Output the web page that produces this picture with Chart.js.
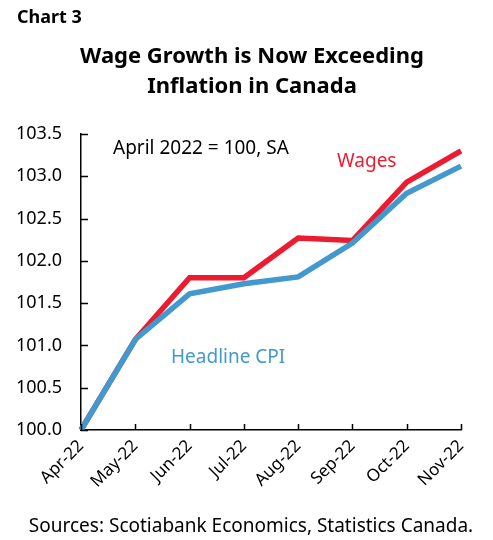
<!DOCTYPE html>
<html>
<head>
<meta charset="utf-8">
<script src="https://cdn.jsdelivr.net/npm/chart.js@4"></script>
<style>
  html, body { margin: 0; padding: 0; background: #fff; }
  #wrap { width: 493px; height: 540px; }
</style>
</head>
<body>
<div id="wrap"><canvas id="wageChart" width="493" height="540"></canvas></div>
<script>
const months = ['Apr-22', 'May-22', 'Jun-22', 'Jul-22', 'Aug-22', 'Sep-22', 'Oct-22', 'Nov-22'];
const wages = [100.0, 101.07, 101.80, 101.80, 102.27, 102.24, 102.93, 103.30];
const headlineCpi = [100.0, 101.07, 101.61, 101.73, 101.81, 102.21, 102.80, 103.12];
const yTicks = [100.0, 100.5, 101.0, 101.5, 102.0, 102.5, 103.0, 103.5];

const FONT = '"Noto Sans", sans-serif';
const RED = '#ED1B2F';
const BLUE = '#4199CD';

// titles, notes and the inward tick marks
const decorations = {
    id: 'decorations',
    afterDraw(chart) {
        const ctx = chart.ctx;
        const xs = chart.scales.x;
        const ys = chart.scales.y;
        const area = chart.chartArea;

        ctx.save();
        ctx.strokeStyle = '#000';
        ctx.lineWidth = 1.5;
        ctx.beginPath();
        months.forEach((m, i) => {
            const px = Math.round(xs.getPixelForValue(i)) + 0.5;
            ctx.moveTo(px, area.bottom);
            ctx.lineTo(px, area.bottom - 6);
        });
        yTicks.forEach(v => {
            const py = Math.round(ys.getPixelForValue(v)) + 0.5;
            ctx.moveTo(area.left, py);
            ctx.lineTo(area.left + 7, py);
        });
        ctx.stroke();

        ctx.fillStyle = '#000';
        ctx.textBaseline = 'alphabetic';
        ctx.textAlign = 'left';
        ctx.font = 'bold 18px ' + FONT;
        ctx.fillText('Chart 3', 17, 23);

        ctx.textAlign = 'center';
        ctx.font = 'bold 22px ' + FONT;
        ctx.fillText('Wage Growth is Now Exceeding', 252, 63);
        ctx.fillText('Inflation in Canada', 252, 93);

        ctx.textAlign = 'left';
        ctx.font = '19px ' + FONT;
        ctx.fillText('April 2022 = 100, SA', 113, 154);

        ctx.fillStyle = RED;
        ctx.fillText('Wages', 337, 167);
        ctx.fillStyle = BLUE;
        ctx.fillText('Headline CPI', 171, 363);

        ctx.fillStyle = '#000';
        ctx.textAlign = 'center';
        ctx.fillText('Sources: Scotiabank Economics, Statistics Canada.', 251, 532);
        ctx.restore();
    }
};

new Chart(document.getElementById('wageChart').getContext('2d'), {
    type: 'line',
    data: {
        labels: months,
        datasets: [{
            label: 'Wages',
            data: wages,
            borderColor: RED,
            backgroundColor: RED,
            borderWidth: 5.5,
            pointRadius: 0,
            tension: 0,
            order: 2
        }, {
            label: 'Headline CPI',
            data: headlineCpi,
            borderColor: BLUE,
            backgroundColor: BLUE,
            borderWidth: 5.5,
            pointRadius: 0,
            tension: 0,
            order: 1
        }]
    },
    options: {
        responsive: false,
        animation: false,
        layout: {
            padding: { top: 134, right: 32, bottom: 0, left: 0 }
        },
        scales: {
            x: {
                offset: false,
                grid: { display: false, drawTicks: false },
                border: { display: true, color: '#000', width: 1.5 },
                ticks: {
                    color: '#000',
                    font: { family: FONT, size: 17 },
                    minRotation: 45,
                    maxRotation: 45,
                    padding: 6
                },
                afterFit(scale) { scale.height = 110; }
            },
            y: {
                min: 100,
                max: 103.5,
                grid: { display: false, drawTicks: false },
                border: { display: true, color: '#000', width: 1.5 },
                afterBuildTicks(scale) {
                    scale.ticks = yTicks.map(v => ({ value: v }));
                },
                ticks: {
                    color: '#000',
                    font: { family: FONT, size: 18 },
                    padding: 19,
                    callback: v => Number(v).toFixed(1)
                },
                afterFit(scale) { scale.width = 81; }
            }
        },
        plugins: {
            legend: { display: false },
            tooltip: { enabled: false }
        }
    },
    plugins: [decorations]
});
</script>
</body>
</html>
